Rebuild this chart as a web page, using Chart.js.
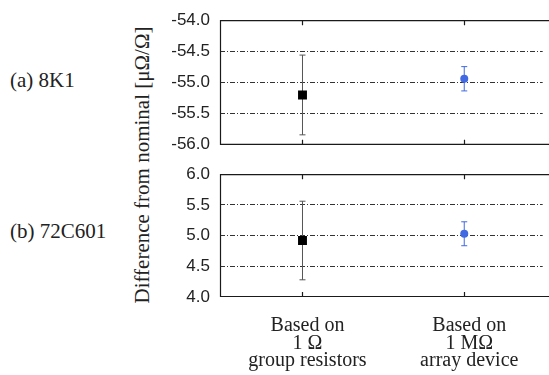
<!DOCTYPE html>
<html>
<head>
<meta charset="utf-8">
<script src="https://cdn.jsdelivr.net/npm/chart.js@4.4.1/dist/chart.umd.min.js"></script>
<style>
  html, body { margin: 0; padding: 0; background: #fff; overflow: hidden; }
  #wrap { position: relative; width: 549px; height: 375px; }
  .panel { position: absolute; left: 160px; width: 389px; }
  #topBox { top: 0; height: 165px; }
  #botBox { top: 154px; height: 221px; }
  .lbl { position: absolute; font-family: "Liberation Serif", "Times New Roman", serif; font-size: 21px; color: #222; white-space: nowrap; }
  #yTitle { left: 142px; top: 165px; transform: translate(-50%, -50%) rotate(-90deg); font-size: 21px; }
</style>
</head>
<body>
<div id="wrap">
  <div class="lbl" style="left:10px; top:68px;">(a) 8K1</div>
  <div class="lbl" style="left:10px; top:219px;">(b) 72C601</div>
  <div class="lbl" id="yTitle">Difference from nominal [μΩ/Ω]</div>
  <div class="panel" id="topBox"><canvas id="chartTop"></canvas></div>
  <div class="panel" id="botBox"><canvas id="chartBot"></canvas></div>
</div>
<script>
// --- data ---
const methodLabels = [
    ['Based on', '1 Ω', 'group resistors'],
    ['Based on', '1 MΩ', 'array device']
];
const methodX = [1, 3];

// (a) 8K1
const values8K1 = [-55.20, -54.94];
const uncert8K1 = [0.64, 0.195];
const ticks8K1 = [-56.0, -55.5, -55.0, -54.5, -54.0];

// (b) 72C601
const values72C601 = [4.92, 5.03];
const uncert72C601 = [0.64, 0.195];
const ticks72C601 = [4.0, 4.5, 5.0, 5.5, 6.0];

// --- styles ---
const markerStyle = ['rect', 'circle'];
const markerColor = ['#000000', '#4169e1'];
const barColor = ['#555555', '#4169e1'];

// error bars + frame + inward tick marks
const errorBarPlugin = {
    id: 'errorBars',
    beforeDatasetsDraw(chart) {
        const ctx = chart.ctx;
        const xs = chart.scales.x, ys = chart.scales.y;
        const ds = chart.data.datasets[0];
        ctx.save();
        ctx.lineWidth = 1;
        ds.data.forEach((p, i) => {
            const px = xs.getPixelForValue(p.x);
            const yHi = ys.getPixelForValue(p.y + ds.uncert[i]);
            const yLo = ys.getPixelForValue(p.y - ds.uncert[i]);
            ctx.strokeStyle = barColor[i];
            ctx.beginPath();
            ctx.moveTo(px, yHi); ctx.lineTo(px, yLo);
            ctx.moveTo(px - 3, yHi); ctx.lineTo(px + 3, yHi);
            ctx.moveTo(px - 3, yLo); ctx.lineTo(px + 3, yLo);
            ctx.stroke();
        });
        ctx.restore();
    },
    afterDraw(chart) {
        const ctx = chart.ctx;
        const a = chart.chartArea;
        const xs = chart.scales.x;
        ctx.save();
        ctx.strokeStyle = '#1a1a1a';
        ctx.lineWidth = 1.2;
        ctx.beginPath();
        ctx.moveTo(chart.width + 2, a.top + 0.5);
        ctx.lineTo(a.left + 0.5, a.top + 0.5);
        ctx.lineTo(a.left + 0.5, a.bottom - 0.5);
        ctx.lineTo(chart.width + 2, a.bottom - 0.5);
        methodX.forEach(v => {
            const px = Math.round(xs.getPixelForValue(v)) + 0.5;
            ctx.moveTo(px, a.top); ctx.lineTo(px, a.top + 5);
            ctx.moveTo(px, a.bottom); ctx.lineTo(px, a.bottom - 5);
        });
        ctx.stroke();
        ctx.restore();
    }
};

function makePanel(canvasId, values, uncert, yTicks, showLabels) {
    const ctx = document.getElementById(canvasId).getContext('2d');
    const yMin = yTicks[0], yMax = yTicks[yTicks.length - 1];
    return new Chart(ctx, {
        type: 'scatter',
        data: {
            datasets: [{
                data: methodX.map((x, i) => ({ x: x, y: values[i] })),
                uncert: uncert,
                pointStyle: markerStyle,
                pointRadius: [6.3, 4],
                pointBackgroundColor: markerColor,
                pointBorderColor: markerColor,
                pointBorderWidth: 0,
                showLine: false
            }]
        },
        options: {
            responsive: true,
            maintainAspectRatio: false,
            animation: false,
            events: [],
            layout: { padding: { top: 17, bottom: 0, left: 0, right: 0 } },
            plugins: { legend: { display: false }, tooltip: { enabled: false } },
            scales: {
                x: {
                    type: 'linear',
                    min: -0.02,
                    max: 3.97,
                    afterBuildTicks: s => { s.ticks = methodX.map(v => ({ value: v })); },
                    afterFit: s => { s.height = showLabels ? 78 : 12; },
                    grid: { display: false, drawTicks: false },
                    border: { display: false },
                    ticks: {
                        display: showLabels,
                        autoSkip: false,
                        maxRotation: 0,
                        labelOffset: 5,
                        padding: 20,
                        color: '#222',
                        font: { family: '"Liberation Serif", "Times New Roman", serif', size: 20, lineHeight: 0.88 },
                        callback: (v, i) => methodLabels[i]
                    }
                },
                y: {
                    min: yMin,
                    max: yMax,
                    afterBuildTicks: s => { s.ticks = yTicks.map(v => ({ value: v })); },
                    afterFit: s => { s.width = 60; },
                    grid: {
                        drawTicks: false,
                        lineWidth: 1,
                        color: c => (c.tick && (c.tick.value === yMin || c.tick.value === yMax)) ? 'rgba(0,0,0,0)' : '#333'
                    },
                    border: { display: false, dash: [5, 2, 1, 2] },
                    ticks: {
                        padding: 10,
                        color: '#222',
                        font: { family: '"Liberation Sans", Arial, sans-serif', size: 17 },
                        callback: v => v.toFixed(1)
                    }
                }
            }
        },
        plugins: [errorBarPlugin]
    });
}

makePanel('chartTop', values8K1, uncert8K1, ticks8K1, false);
makePanel('chartBot', values72C601, uncert72C601, ticks72C601, true);
</script>
</body>
</html>
